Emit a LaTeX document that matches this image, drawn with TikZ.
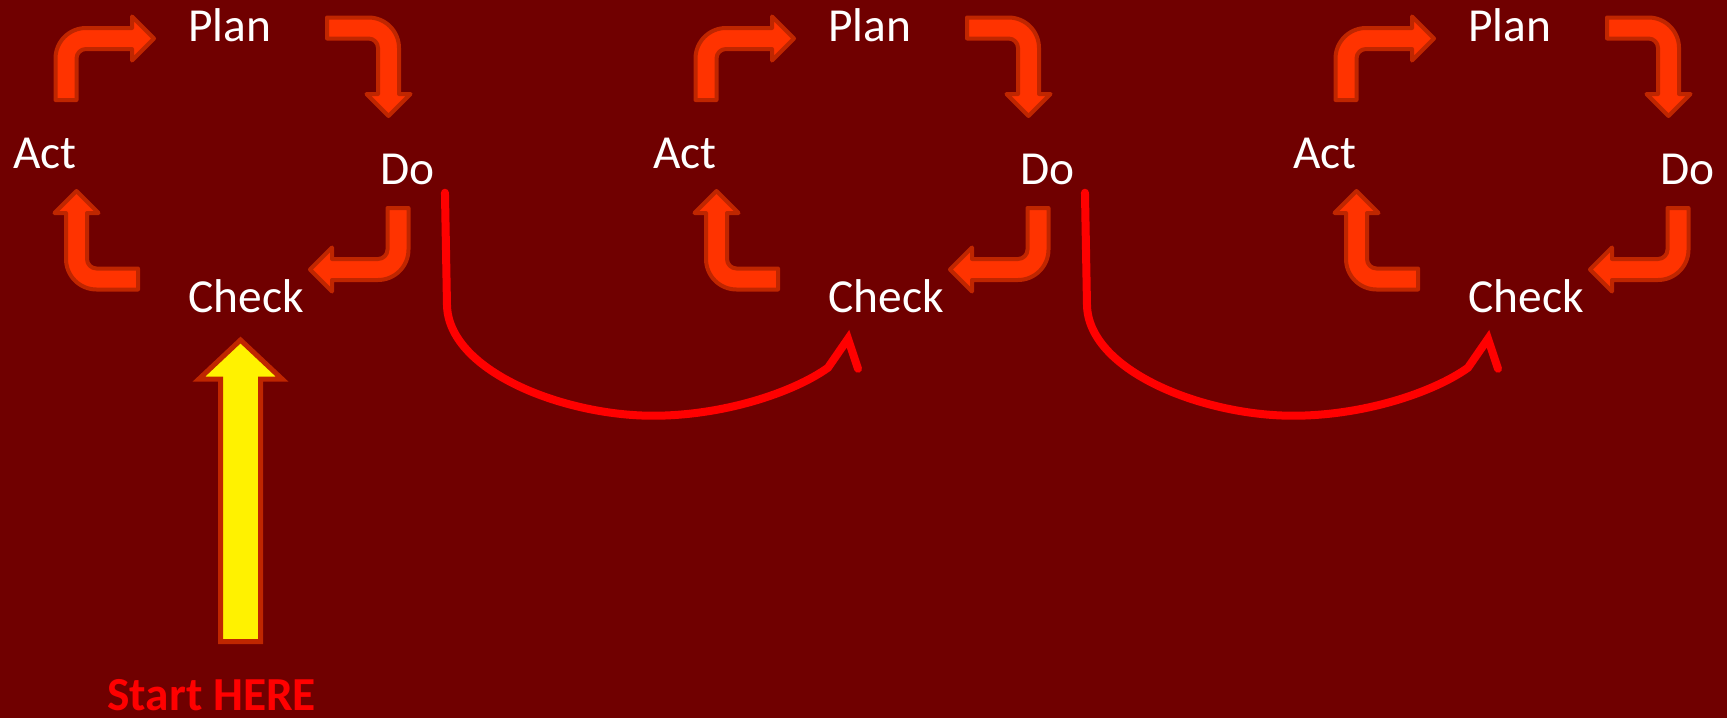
\documentclass[tikz,border=0pt]{standalone}
\usepackage{fontspec}
\setmainfont{Carlito}
\definecolor{bgred}{RGB}{112,0,0}
\definecolor{arrowfill}{RGB}{255,51,0}
\definecolor{arrowedge}{RGB}{191,38,0}
\definecolor{loopred}{RGB}{255,0,0}
\begin{document}
\begin{tikzpicture}[x=0.5pt,y=0.5pt,
	cycletext/.style = {anchor=base west, inner sep=0pt, text=white, font=\fontsize{23.7}{28}\selectfont},
	bentarrow/.style = {fill=arrowfill, draw=arrowedge, line width=2pt, line join=round},
	loopline/.style = {draw=loopred, line width=4pt, line join=miter, line cap=round},
	startarrow/.style = {fill=yellow, draw=arrowedge, line width=2.5pt, line join=miter},
	cyclearrow/.pic = {
		\draw[bentarrow] (-10.5,0) -- (-10.5,41.5) arc[start angle=180, end angle=90, radius=30.5]
			-- (66,72) -- (66,83.5) -- (88,61.5) -- (66,39.5) -- (66,51) -- (20,51)
			arc[start angle=90, end angle=180, radius=9.5] -- (10.5,0) -- cycle;
	}]
	\fill[bgred] (0,0) rectangle (1727,-718);
	\useasboundingbox (0,0) rectangle (1727,-718);
	\foreach \i in {1,2,3} {
		\begin{scope}[shift={({(\i-1)*640},0)}]
			\node (plan\i)	at (188, -41)	[cycletext]	{Plan};
			\node (act\i)	at ( 13,-168)	[cycletext]	{Act};
			\node (do\i)	at (380,-184)	[cycletext]	{Do};
			\node (check\i)	at (188,-312)	[cycletext]	{Check};
			\pic				at ( 66,-100)	{cyclearrow};
			\pic[rotate=-90]	at (327, -28)	{cyclearrow};
			\pic[rotate=180]	at (398,-208)	{cyclearrow};
			\pic[rotate=90]		at (138,-279)	{cyclearrow};
		\end{scope}
	}
	\node (start) at (107,-710) [cycletext, text=loopred, font=\bfseries\fontsize{23.7}{28}\selectfont] {Start HERE};
	\draw[startarrow] (220.5,-641.5) -- (220.5,-379) -- (199,-379) -- (240.5,-340)
		-- (282,-379) -- (260.5,-379) -- (260.5,-641.5) -- cycle;
	\foreach \i/\j in {1/2, 2/3}
		\draw[loopline] ([shift={(10,-8)}]do\i.south east) -- ++(2,-111)
			.. controls +(0,-67) and +(-90,0) .. ++(206,-112)
			.. controls +(70,0) and +(-35,-25) .. ++(175,48)
			-- ([shift={(20,-26)}]check\j.south west) -- ++(10,-30);
\end{tikzpicture}
\end{document}
